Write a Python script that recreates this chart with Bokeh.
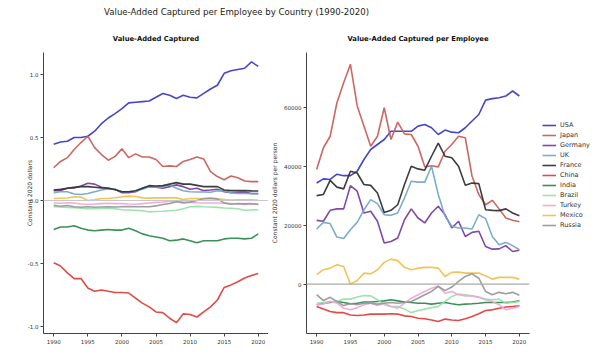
from bokeh.plotting import figure
from bokeh.models import Legend, LegendItem, Span, Label, FixedTicker, NumeralTickFormatter, Range1d
from bokeh.layouts import column, row
from bokeh.embed import file_html
from bokeh.resources import INLINE

FONT = "DejaVu Sans"

years = list(range(1990, 2021))
countries = ["USA", "Japan", "Germany", "UK", "France", "China", "India",
             "Brazil", "Turkey", "Mexico", "Russia"]
colors = ["#3c3cc8", "#c9605a", "#7a3fa0", "#74a9c9", "#333333", "#e0403c",
          "#2f8a4f", "#98e2a8", "#f0a8d8", "#f0c050", "#999999"]

# Value-added captured (units of 1e13 constant 2020 dollars)
va_usa = [0.446, 0.465, 0.47, 0.5, 0.5, 0.51, 0.55, 0.61, 0.655, 0.69, 0.73, 0.775, 0.78, 0.785, 0.79,
          0.82, 0.85, 0.835, 0.81, 0.835, 0.82, 0.815, 0.85, 0.885, 0.915, 1.01, 1.03, 1.04, 1.05, 1.10, 1.065]
va_japan = [0.26, 0.31, 0.34, 0.405, 0.46, 0.51, 0.42, 0.365, 0.32, 0.35, 0.41, 0.34, 0.37, 0.345, 0.345,
            0.325, 0.27, 0.275, 0.27, 0.31, 0.325, 0.345, 0.33, 0.23, 0.19, 0.165, 0.195, 0.18, 0.155, 0.15, 0.15]
va_germany = [0.078, 0.08, 0.097, 0.1, 0.115, 0.137, 0.13, 0.105, 0.097, 0.089, 0.062, 0.062, 0.07, 0.097, 0.11,
              0.105, 0.097, 0.11, 0.124, 0.11, 0.089, 0.097, 0.078, 0.083, 0.089, 0.07, 0.062, 0.065, 0.067, 0.056, 0.056]
va_uk = [0.062, 0.07, 0.07, 0.051, 0.048, 0.056, 0.07, 0.083, 0.091, 0.089, 0.07, 0.07, 0.074, 0.089, 0.11,
         0.108, 0.108, 0.124, 0.097, 0.078, 0.07, 0.067, 0.067, 0.065, 0.078, 0.075, 0.062, 0.056, 0.056, 0.053, 0.051]
va_france = [0.083, 0.088, 0.097, 0.104, 0.11, 0.11, 0.105, 0.1, 0.097, 0.085, 0.07, 0.07, 0.078, 0.098, 0.118,
             0.115, 0.118, 0.13, 0.142, 0.13, 0.13, 0.12, 0.11, 0.11, 0.11, 0.083, 0.078, 0.078, 0.078, 0.076, 0.075]
va_china = [-0.495, -0.52, -0.575, -0.62, -0.62, -0.695, -0.72, -0.71, -0.72, -0.73, -0.73, -0.735, -0.775, -0.815,
            -0.845, -0.885, -0.89, -0.935, -0.97, -0.9, -0.905, -0.925, -0.885, -0.845, -0.79, -0.69, -0.67, -0.645,
            -0.615, -0.595, -0.58]
va_india = [-0.23, -0.21, -0.21, -0.2, -0.22, -0.235, -0.24, -0.235, -0.23, -0.235, -0.235, -0.22, -0.24, -0.265,
            -0.28, -0.29, -0.3, -0.32, -0.315, -0.305, -0.32, -0.335, -0.32, -0.32, -0.32, -0.305, -0.3, -0.3,
            -0.305, -0.3, -0.265]
va_brazil = [-0.05, -0.052, -0.055, -0.058, -0.062, -0.065, -0.065, -0.063, -0.062, -0.066, -0.073, -0.075, -0.077,
             -0.082, -0.09, -0.087, -0.085, -0.082, -0.078, -0.065, -0.05, -0.047, -0.05, -0.052, -0.055, -0.06,
             -0.062, -0.065, -0.078, -0.075, -0.073]
va_turkey = [-0.02, -0.022, -0.018, -0.02, -0.028, -0.03, -0.028, -0.025, -0.022, -0.025, -0.025, -0.028, -0.03,
             -0.025, -0.02, -0.015, -0.012, -0.008, -0.005, -0.012, -0.015, -0.018, -0.02, -0.02, -0.02, -0.022,
             -0.025, -0.028, -0.032, -0.03, -0.03]
va_mexico = [0.016, 0.018, 0.02, 0.03, 0.028, 0.0, 0.005, 0.016, 0.016, 0.022, 0.03, 0.035, 0.032, 0.021, 0.019,
             0.021, 0.021, 0.021, 0.021, 0.008, 0.016, 0.016, 0.013, 0.013, 0.013, 0.008, 0.003, 0.005, 0.005, 0.005, 0.003]
va_russia = [-0.038, -0.046, -0.04, -0.05, -0.054, -0.05, -0.054, -0.052, -0.05, -0.052, -0.05, -0.048, -0.05,
             -0.05, -0.05, -0.043, -0.032, -0.024, -0.01, -0.019, -0.013, 0.0, 0.016, 0.02, 0.013, -0.019, -0.03,
             -0.024, -0.027, -0.024, -0.032]

# Value-added captured per employee (constant 2020 dollars per person)
vpe_usa = [34400, 35800, 35600, 37400, 36900, 36900, 38400, 42400, 45800, 47500, 49200, 52000, 52000, 52000, 52000,
           53750, 54300, 53200, 50900, 52400, 51700, 51500, 53200, 55500, 57700, 62600, 63100, 63400, 64000, 65700, 64000]
vpe_japan = [39000, 46400, 50300, 61700, 68500, 74800, 60600, 53800, 46900, 50300, 60000, 49200, 55100, 51100, 50900,
             46900, 39900, 40300, 39900, 45200, 47500, 50300, 49800, 36700, 30500, 27000, 28500, 25600, 22500, 21700, 21200]
vpe_germany = [21700, 21400, 25100, 25600, 25600, 33500, 31600, 24200, 24800, 21400, 14000, 14500, 15700, 21900, 25600,
               22500, 20800, 24200, 26500, 23600, 19100, 21400, 16200, 17600, 18000, 12800, 11900, 12000, 13100, 11100, 11500]
vpe_uk = [18750, 21000, 20600, 16000, 15500, 18500, 21000, 25300, 28750, 27400, 23600, 23400, 24200, 29300, 35000,
          34700, 34700, 40100, 30500, 23100, 19700, 19100, 19100, 18750, 23600, 22300, 16200, 13400, 14200, 13100, 11700]
vpe_france = [30100, 30500, 35300, 33000, 32400, 38400, 37800, 33900, 33600, 31000, 24400, 25100, 27000, 33900, 40100,
              39200, 38750, 43500, 48000, 43500, 43000, 40100, 33600, 34400, 34200, 25300, 25100, 25000, 25600, 24200, 23300]
vpe_china = [-7600, -8500, -9300, -9700, -9700, -10500, -10700, -10500, -10200, -10200, -10200, -10100, -10200, -10800,
             -11000, -11600, -11800, -12200, -12700, -11900, -12200, -12400, -11800, -11000, -10100, -9000, -8750, -8200,
             -7800, -7600, -7400]
vpe_india = [-7000, -6500, -6250, -5900, -6250, -6700, -6500, -6100, -6100, -5900, -5700, -5300, -5700, -6100, -6250,
             -6500, -6500, -6800, -6500, -6250, -6700, -7000, -6800, -6700, -6500, -6250, -6250, -6250, -6250, -6100, -5700]
vpe_brazil = [-6500, -6250, -5900, -5900, -5100, -5100, -4400, -3900, -4000, -5300, -7000, -7600, -7600, -8500, -9700,
              -9000, -8500, -8000, -7600, -5900, -4200, -3400, -3600, -4000, -4400, -5100, -5300, -5100, -6500, -6250, -5900]
vpe_turkey = [-7000, -6800, -5900, -6400, -8200, -8750, -8000, -7000, -6500, -7300, -6500, -7600, -8200, -6500, -4800,
              -3600, -2500, -1400, -600, -3100, -2500, -3600, -4000, -4000, -4500, -5300, -5900, -7000, -8750, -8200, -7600]
vpe_mexico = [3200, 4900, 5450, 6600, 6000, 0, 1250, 3750, 3500, 4900, 7400, 8500, 8000, 5700, 4900, 5450, 5700, 5700,
              5450, 2600, 4000, 4100, 3750, 3750, 3750, 2850, 1700, 2300, 2300, 2300, 1700]
vpe_russia = [-3600, -5600, -4500, -5900, -7300, -6700, -7000, -6500, -6500, -6800, -6500, -6250, -6500, -6250, -5900,
              -4800, -3600, -2500, -800, -2200, -1000, 900, 2600, 3500, 2000, -2500, -3600, -2800, -3300, -2800, -3750]

va_series = [va_usa, va_japan, va_germany, va_uk, va_france, va_china, va_india,
             va_brazil, va_turkey, va_mexico, va_russia]
vpe_series = [vpe_usa, vpe_japan, vpe_germany, vpe_uk, vpe_france, vpe_china, vpe_india,
              vpe_brazil, vpe_turkey, vpe_mexico, vpe_russia]

year_ticks = [1990, 1995, 2000, 2005, 2010, 2015, 2020]


def style(p, title, ylabel, label_standoff):
    p.outline_line_color = None
    p.grid.visible = False
    p.background_fill_color = "white"
    p.border_fill_color = "white"
    p.title.text = title
    p.title.align = "center"
    p.title.text_font = FONT
    p.title.text_font_size = "6.8px"
    p.title.text_font_style = "bold"
    p.title.text_color = "#111111"
    p.title.standoff = 19
    p.xaxis.ticker = FixedTicker(ticks=year_ticks)
    for ax in p.axis:
        ax.axis_line_color = "#444444"
        ax.axis_line_width = 1
        ax.major_tick_line_color = "#444444"
        ax.minor_tick_line_color = None
        ax.major_tick_in = 0
        ax.major_tick_out = 3
        ax.major_label_text_font = FONT
        ax.major_label_text_font_size = "5.5px"
        ax.major_label_text_color = "#333333"
        ax.major_label_standoff = 2
        ax.axis_label_text_font = FONT
        ax.axis_label_text_font_size = "6px"
        ax.axis_label_text_font_style = "normal"
        ax.axis_label_text_color = "#333333"
    p.yaxis.axis_label = ylabel
    p.yaxis.axis_label_standoff = label_standoff


# Main title strip
p0 = figure(width=600, height=22, x_range=Range1d(0, 600), y_range=Range1d(0, 22),
            toolbar_location=None, output_backend="svg", min_border=0)
p0.axis.visible = False
p0.grid.visible = False
p0.outline_line_color = None
p0.add_layout(Label(x=236, y=11, text="Value-Added Captured per Employee by Country (1990-2020)",
                    text_align="center", text_baseline="middle", text_font=FONT,
                    text_font_size="8.6px", text_color="#222222"))

# Left panel
p1 = figure(frame_width=225, frame_height=281, x_range=Range1d(1988.5, 2021.5),
            y_range=Range1d(-1.056, 1.175), toolbar_location=None, output_backend="svg",
            min_border_left=43, min_border_right=0, min_border_top=30, min_border_bottom=17)
style(p1, "Value-Added Captured", "Constant 2020 dollars", -8)
p1.yaxis.ticker = FixedTicker(ticks=[-1.0, -0.5, 0.0, 0.5, 1.0])
p1.yaxis.formatter = NumeralTickFormatter(format="0.0")
p1.add_layout(Span(location=0, dimension="width", line_color="#c8c8c8", line_width=1.2))
for name, col, vals in zip(countries, colors, va_series):
    p1.line(years, vals, line_color=col, line_width=1.6, line_alpha=0.95)
p1.add_layout(Label(x=1988.5, y=1.175, x_offset=-4, y_offset=3, text="1e13", text_baseline="bottom",
                    text_font=FONT, text_font_size="5px", text_color="#333333"))

# Right panel
p2 = figure(frame_width=223, frame_height=281, x_range=Range1d(1988.5, 2021.5),
            y_range=Range1d(-16800, 78800), toolbar_location=None, output_backend="svg",
            min_border_left=34, min_border_right=71, min_border_top=30, min_border_bottom=17)
style(p2, "Value-Added Captured per Employee", "Constant 2020 dollars per person", 3)
p2.yaxis.ticker = FixedTicker(ticks=[0, 20000, 40000, 60000])
p2.yaxis.formatter = NumeralTickFormatter(format="0")
p2.add_layout(Span(location=0, dimension="width", line_color="#aaaaaa", line_width=1.2))
items = []
for name, col, vals in zip(countries, colors, vpe_series):
    r = p2.line(years, vals, line_color=col, line_width=1.6, line_alpha=0.95)
    items.append(LegendItem(label=name, renderers=[r]))

legend = Legend(items=items, location=(13, 104), border_line_color=None, background_fill_alpha=0,
                padding=0, margin=0, spacing=2, label_height=8, glyph_height=8, glyph_width=14,
                label_standoff=4, label_text_font=FONT, label_text_font_size="6.5px",
                label_text_color="#333333")
p2.add_layout(legend, "right")

layout = column(p0, row(p1, p2))
open("out.html", "w").write(file_html(layout, INLINE))
